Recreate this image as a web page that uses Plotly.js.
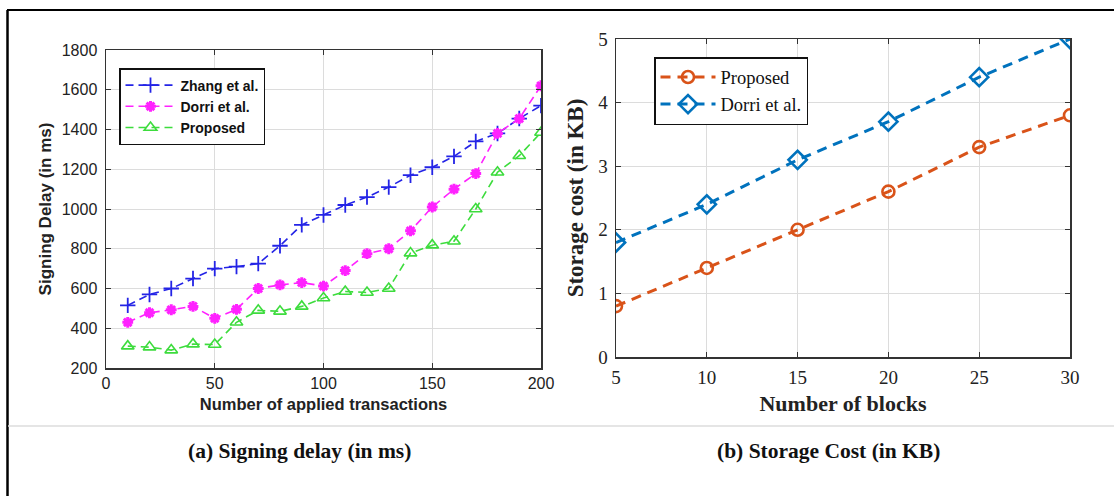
<!DOCTYPE html>
<html>
<head>
<meta charset="utf-8">
<script src="https://cdn.plot.ly/plotly-3.0.1.min.js"></script>
<style>html,body{margin:0;padding:0;background:#fff;}#chart{width:1114px;height:496px;}</style>
</head>
<body>
<div id="chart"></div>
<script>
// ---- Data: (a) Signing delay ----
const transactions = [10,20,30,40,50,60,70,80,90,100,110,120,130,140,150,160,170,180,190,200];
const zhangDelay    = [515,570,600,650,700,710,725,815,920,970,1020,1060,1110,1170,1210,1265,1340,1380,1455,1520];
const dorriDelay    = [430,478,493,510,450,495,600,618,630,612,690,775,800,890,1010,1100,1178,1380,1455,1620];
const proposedDelay = [310,305,290,320,318,430,490,485,510,552,585,580,600,778,818,838,1000,1185,1268,1385];

// ---- Data: (b) Storage cost ----
const blocks = [5,10,15,20,25,30];
const proposedStorage = [0.8,1.4,2.0,2.6,3.3,3.8];
const dorriStorage    = [1.8,2.4,3.1,3.7,4.4,5.0];

const W = 1114, H = 496;
const px = v => v / W;
const py = v => 1 - v / H;

const sans = 'Liberation Sans, Arial, sans-serif';
const serif = 'Liberation Serif, Times New Roman, serif';

const traces = [
  {x: transactions, y: zhangDelay, name: 'Zhang et al.', type: 'scatter', mode: 'lines+markers',
   xaxis: 'x', yaxis: 'y', legend: 'legend',
   line: {color: '#2424e6', width: 1.6, dash: '8px,5px'},
   marker: {symbol: 'cross-thin-open', size: 11, line: {color: '#2424e6', width: 1.8}}},
  {x: transactions, y: dorriDelay, name: 'Dorri et al.', type: 'scatter', mode: 'lines+markers',
   xaxis: 'x', yaxis: 'y', legend: 'legend',
   line: {color: '#ff22ff', width: 1.6, dash: '8px,5px'},
   marker: {symbol: 'asterisk-open', size: 9, line: {color: '#ff22ff', width: 3}}},
  {x: transactions, y: proposedDelay, name: 'Proposed', type: 'scatter', mode: 'lines+markers',
   xaxis: 'x', yaxis: 'y', legend: 'legend',
   line: {color: '#3ddc3d', width: 1.6, dash: '8px,5px'},
   marker: {symbol: 'triangle-up-open', size: 11, line: {color: '#3ddc3d', width: 1.6}}},
  {x: blocks, y: proposedStorage, name: 'Proposed', type: 'scatter', mode: 'lines+markers',
   xaxis: 'x2', yaxis: 'y2', legend: 'legend2',
   line: {color: '#D95319', width: 3, dash: '10px,7px'},
   marker: {symbol: 'circle-open', size: 12, line: {color: '#D95319', width: 2.6}}},
  {x: blocks, y: dorriStorage, name: 'Dorri et al.', type: 'scatter', mode: 'lines+markers',
   xaxis: 'x2', yaxis: 'y2', legend: 'legend2',
   line: {color: '#0072BD', width: 3, dash: '10px,7px'},
   marker: {symbol: 'diamond-open', size: 14, line: {color: '#0072BD', width: 2.6}}}
];

const axBase = {
  showgrid: true, gridcolor: '#dcdcdc', gridwidth: 1,
  showline: true, linecolor: '#333', linewidth: 1.5, mirror: 'allticks',
  ticks: 'inside', ticklen: 5, tickcolor: '#333', zeroline: false
};

const layout = {
  width: W, height: H,
  margin: {l: 0, r: 0, t: 0, b: 0},
  paper_bgcolor: '#ffffff', plot_bgcolor: '#ffffff',
  showlegend: true,
  xaxis: Object.assign({}, axBase, {
    domain: [px(106), px(541)], range: [0, 200], tickvals: [0,50,100,150,200],
    tickfont: {family: sans, size: 16, color: '#222'},
    title: {text: 'Number of applied transactions', font: {family: sans, size: 16.5, color: '#222', weight: 'bold'}, standoff: 7},
    anchor: 'y'
  }),
  yaxis: Object.assign({}, axBase, {
    domain: [py(368), py(50)], range: [200, 1800], tickvals: [200,400,600,800,1000,1200,1400,1600,1800],
    tickfont: {family: sans, size: 16, color: '#222'},
    ticklabelstandoff: 4,
    title: {text: 'Signing Delay (in ms)', font: {family: sans, size: 17, color: '#222', weight: 'bold'}, standoff: 6},
    anchor: 'x'
  }),
  xaxis2: Object.assign({}, axBase, {
    domain: [px(616), px(1070)], range: [5, 30], tickvals: [5,10,15,20,25,30],
    tickfont: {family: serif, size: 19, color: '#222'},
    ticklabelstandoff: 3,
    title: {text: 'Number of blocks', font: {family: serif, size: 22, color: '#222', weight: 'bold'}, standoff: 8},
    anchor: 'y2'
  }),
  yaxis2: Object.assign({}, axBase, {
    domain: [py(357), py(39)], range: [0, 5], tickvals: [0,1,2,3,4,5],
    tickfont: {family: serif, size: 19, color: '#222'},
    ticklabelstandoff: 3,
    title: {text: 'Storage cost (in KB)', font: {family: serif, size: 23, color: '#222', weight: 'bold'}, standoff: 8},
    anchor: 'x2'
  }),
  legend: {
    x: px(119), y: py(68), xanchor: 'left', yanchor: 'top',
    bgcolor: '#ffffff', bordercolor: '#111', borderwidth: 1.5,
    font: {family: sans, size: 14, color: '#111', weight: 'bold'},
    tracegroupgap: 0, itemwidth: 50
  },
  legend2: {
    x: px(654), y: py(57), xanchor: 'left', yanchor: 'top',
    bgcolor: '#ffffff', bordercolor: '#111', borderwidth: 1.5,
    font: {family: serif, size: 18.5, color: '#111'},
    tracegroupgap: 0, itemwidth: 55
  },
  shapes: [
    {type: 'line', xref: 'paper', yref: 'paper', x0: px(7.5), x1: px(7.5), y0: 0, y1: py(10), line: {color: '#000', width: 2.5}},
    {type: 'line', xref: 'paper', yref: 'paper', x0: px(7), x1: 1, y0: py(10), y1: py(10), line: {color: '#000', width: 2}},
    {type: 'line', xref: 'paper', yref: 'paper', x0: px(8), x1: 1, y0: py(426), y1: py(426), line: {color: '#dddddd', width: 1.5}}
  ],
  annotations: [
    {text: '<b>(a) Signing delay (in ms)</b>', xref: 'paper', yref: 'paper', x: px(299), y: py(451),
     showarrow: false, xanchor: 'center', yanchor: 'middle', font: {family: serif, size: 21.5, color: '#111'}},
    {text: '<b>(b) Storage Cost (in KB)</b>', xref: 'paper', yref: 'paper', x: px(828), y: py(451),
     showarrow: false, xanchor: 'center', yanchor: 'middle', font: {family: serif, size: 21.5, color: '#111'}}
  ]
};

Plotly.newPlot('chart', traces, layout, {displayModeBar: false, staticPlot: true});
</script>
</body>
</html>
